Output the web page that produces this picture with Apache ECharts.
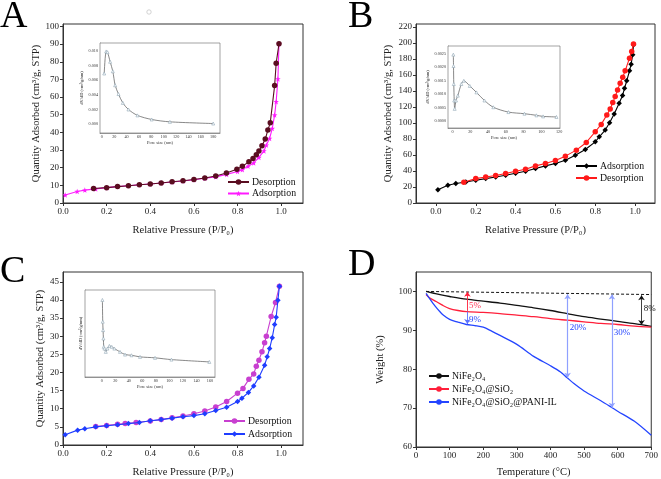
<!DOCTYPE html>
<html><head><meta charset="utf-8">
<script src="https://cdn.jsdelivr.net/npm/echarts@6/dist/echarts.min.js"></script>
<style>html,body{margin:0;padding:0;background:#fff}#c{width:661px;height:479px}</style>
</head><body><div id="c"></div>
<script>
// ---------- DATA ----------
// Panel A (N2 isotherm)
const aAdsP = [0.01,0.065,0.10,0.15,0.20,0.25,0.30,0.35,0.40,0.45,0.50,0.55,0.60,0.65,0.70,0.75,0.80,0.822,0.848,0.874,0.898,0.921,0.932,0.947,0.959,0.970,0.977,0.985,0.990];
const aAdsQ = [4.5,6.5,7.3,8.0,8.7,9.3,9.8,10.3,10.8,11.3,11.9,12.5,13.2,14.0,14.8,16.2,17.8,18.9,20.8,22.7,25.8,29.5,32.8,36.6,42.2,49.8,57.4,70.3,90.2];
const aDesP = [0.990,0.977,0.970,0.950,0.939,0.927,0.912,0.898,0.886,0.871,0.852,0.822,0.797,0.749,0.700,0.650,0.600,0.550,0.500,0.450,0.400,0.350,0.300,0.250,0.200,0.140];
const aDesQ = [90.2,79.2,66.5,45.5,41.3,36.2,32.4,29.5,27.3,25.2,23.3,20.8,19.1,17.0,15.3,14.2,13.3,12.6,12.0,11.3,10.8,10.3,9.8,9.3,8.7,8.2];
const aPoreD = [3.8,7.0,9.1,13.4,17.7,21.5,26.9,33.9,43,57.5,80.6,110,180];
const aPoreV = [0.0069,0.0099,0.0098,0.0085,0.0072,0.0053,0.0041,0.0029,0.0020,0.0012,0.00064,0.00032,0.00009];
// Panel B
const bAdsP = [0.01,0.06,0.10,0.15,0.20,0.25,0.30,0.35,0.40,0.45,0.50,0.55,0.60,0.65,0.70,0.75,0.80,0.82,0.85,0.872,0.895,0.92,0.937,0.947,0.958,0.972,0.98,0.988,0.992];
const bAdsQ = [16.7,22.2,24.3,26.3,28.4,30.5,32.6,34.7,37.2,39.7,43.1,46.4,49.4,53.5,59.8,66.9,76.5,82.8,91.2,100.4,111.3,124.6,134.3,143.5,152.7,165.2,173.6,185.3,197.8];
const bDesP = [0.992,0.983,0.972,0.95,0.938,0.925,0.912,0.90,0.888,0.875,0.858,0.83,0.80,0.755,0.705,0.65,0.60,0.55,0.50,0.45,0.40,0.35,0.30,0.25,0.20,0.14];
const bDesQ = [198.7,189.5,181.1,165.2,157.3,149.7,141.4,133.0,125.5,117.5,110.0,98.3,89.1,75.7,66.1,58.6,53.1,49.4,46.4,42.2,39.7,36.8,34.3,32.6,30.5,25.9];
const bPoreD = [1,1.2,1.5,2,2.5,4,6,10,12.8,19.5,27,36,46,63,81,94.5,102,117];
const bPoreV = [0.00246,0.00204,0.00137,0.00076,0.00045,0.00076,0.00094,0.00137,0.00149,0.0013,0.00106,0.00076,0.00051,0.00033,0.00027,0.00021,0.00017,0.00015];
// Panel C
const cAdsP = [0.01,0.067,0.10,0.15,0.20,0.25,0.30,0.35,0.40,0.45,0.50,0.55,0.60,0.65,0.70,0.75,0.80,0.82,0.85,0.874,0.898,0.924,0.936,0.947,0.959,0.970,0.977,0.985,0.992];
const cAdsQ = [2.8,4.1,4.5,5.0,5.3,5.6,5.9,6.2,6.7,7.0,7.4,7.8,8.1,8.6,9.5,10.4,12.0,12.9,14.5,16.3,18.7,22.0,24.3,26.6,29.6,33.2,35.2,39.9,43.8];
const cDesP = [0.992,0.974,0.954,0.932,0.924,0.912,0.898,0.886,0.874,0.852,0.825,0.80,0.75,0.70,0.65,0.60,0.55,0.50,0.45,0.40,0.335,0.285,0.25,0.20,0.15];
const cDesQ = [43.8,39.3,35.4,30.0,28.2,25.7,23.4,21.7,19.6,18.1,15.6,14.3,12.0,10.5,9.4,8.6,8.0,7.5,7.0,6.6,6.2,5.9,5.7,5.4,5.1];
const cPoreD = [1,1.5,2,2.5,3,4,6,8.4,11.3,14.8,18.7,27,34.5,44,56.6,78.8,103,159];
const cPoreV = [0.00488,0.00328,0.00266,0.00204,0.00143,0.0013,0.00106,0.0013,0.0015,0.00143,0.0013,0.00106,0.00086,0.00081,0.00069,0.00062,0.00049,0.00032];
// Panel D (TGA)
const dBlackT = [30,50,75,100,150,200,250,300,350,400,450,500,550,600,650,700];
const dBlackW = [100.0,99.6,99.1,98.7,98.0,97.5,97.0,96.4,95.8,95.1,94.3,93.5,92.9,92.3,91.7,91.0];
const dRedT = [30,40,60,80,100,125,150,200,250,300,350,400,450,500,550,600,650,700];
const dRedW = [99.2,98.4,97.4,96.4,95.6,95.1,94.8,94.6,94.3,93.9,93.5,93.0,92.6,92.2,91.8,91.5,91.1,90.8];
const dBlueT = [30,40,50,60,70,80,100,125,150,175,200,225,250,300,350,400,430,450,470,500,550,580,600,650,700];
const dBlueW = [99.5,98.2,97.0,95.9,94.9,94.0,92.8,92.1,91.5,91.2,90.8,89.8,88.7,86.4,83.3,80.9,79.3,77.8,76.3,74.4,71.9,70.3,69.2,66.6,63.0];
const dLossLabels = ['5%','9%','20%','30%','8%'];
// tick labels
const isoXTicks = [0,0.2,0.4,0.6,0.8,1.0];
const aYTicks = [0,10,20,30,40,50,60,70,80,90,100];
const bYTicks = [0,20,40,60,80,100,120,140,160,180,200,220];
const cYTicks = [0,5,10,15,20,25,30,35,40,45];
const dXTicks = [0,100,200,300,400,500,600,700];
const dYTicks = [60,70,80,90,100];
const aInXTicks = [0,20,40,60,80,100,120,140,160,180];
const aInYTicks = [0,0.002,0.004,0.006,0.008,0.010];
const bInXTicks = [0,20,40,60,80,100,120];
const bInYTicks = [0,0.0005,0.0010,0.0015,0.0020,0.0025];
const cInXTicks = [0,20,40,60,80,100,120,140,160];
const cInYTicks = [0,0.001,0.002,0.003,0.004,0.005];

// ---------- CHART ----------
const FONT = 'Liberation Serif';
const zip = (xs, ys) => xs.map((x, i) => [x, ys[i]]);
const chart = echarts.init(document.getElementById('c'), null, {renderer: 'canvas'});

function mainAxis(idx, min, max, ticks, fmt, name, gap) {
  return {
    type: 'value', gridIndex: idx, min: min, max: max,
    name: name, nameLocation: 'middle', nameGap: gap,
    nameTextStyle: {fontFamily: FONT, fontSize: 10.5, color: '#222'},
    axisLine: {show: true, onZero: false, lineStyle: {color: '#333', width: 1}},
    axisTick: {show: true, inside: false, length: 3, customValues: ticks, lineStyle: {color: '#333'}},
    axisLabel: {customValues: ticks, formatter: fmt, fontFamily: FONT, fontSize: 9, color: '#222', margin: 4},
    splitLine: {show: false}
  };
}
function insetAxis(idx, min, max, ticks, fmt, name, gap, inside) {
  return {
    type: 'value', gridIndex: idx, min: min, max: max,
    name: name, nameLocation: 'middle', nameGap: gap,
    nameTextStyle: {fontFamily: FONT, fontSize: 4.5, color: '#333'},
    axisLine: {show: true, onZero: false, lineStyle: {color: '#666', width: 0.6}},
    axisTick: {show: true, inside: true, length: 1.5, customValues: ticks, lineStyle: {color: '#666', width: 0.5}},
    axisLabel: {customValues: ticks, formatter: fmt, fontFamily: FONT, fontSize: 4.2, color: '#333', margin: 2, inside: !!inside},
    splitLine: {show: false}
  };
}
const f1 = v => v.toFixed(1);
const f0 = v => String(Math.round(v));

function iso(name, xi, yi, xs, ys, color, symbol, z) {
  return {
    type: 'line', name: name, xAxisIndex: xi, yAxisIndex: yi, data: zip(xs, ys),
    symbol: symbol, symbolSize: 5.5, showSymbol: true, z: z || 2,
    lineStyle: {color: color, width: 1.1}, itemStyle: {color: color},
    emphasis: {disabled: true}
  };
}
function pore(xi, yi, xs, ys) {
  return {
    type: 'line', xAxisIndex: xi, yAxisIndex: yi, data: zip(xs, ys), smooth: 0.3,
    symbol: 'triangle', symbolSize: [3, 3], z: 5,
    lineStyle: {color: '#555', width: 0.7},
    itemStyle: {color: '#ffffff', borderColor: '#8fa6b5', borderWidth: 0.6},
    emphasis: {disabled: true}
  };
}
const star = 'path://M0,-10L2.4,-3.3L9.5,-3.1L3.9,1.3L5.9,8.1L0,4.1L-5.9,8.1L-3.9,1.3L-9.5,-3.1L-2.4,-3.3Z';

function lbl(x, y, text, color) {
  return {coord: [x, y], value: text, symbol: 'circle', symbolSize: 1, itemStyle: {color: 'rgba(0,0,0,0)'},
    label: {show: true, position: 'right', distance: 1, formatter: text, color: color, fontFamily: FONT, fontSize: 9}};
}

const legendBase = {
  orient: 'vertical', itemWidth: 21, itemHeight: 7, selectedMode: false, padding: 0,
  textStyle: {fontFamily: FONT, fontSize: 9.8, color: '#111', padding: [0, 0, 0, -2]},
  formatter: n => n.split('|')[1]
};
const gridStyle = {show: true, borderColor: '#333', borderWidth: 1, containLabel: false};
const inGridStyle = {show: true, borderColor: '#666', borderWidth: 0.6, backgroundColor: '#fff', z: 4};

const option = {
  animation: false,
  grid: [
    Object.assign({left: 63, top: 24, width: 240, height: 179}, gridStyle),
    Object.assign({left: 416, top: 24, width: 239, height: 179}, gridStyle),
    Object.assign({left: 63, top: 272, width: 240, height: 176}, gridStyle),
    Object.assign({left: 416, top: 272, width: 239, height: 177}, gridStyle),
    Object.assign({left: 100, top: 43, width: 120, height: 90}, inGridStyle),
    Object.assign({left: 448, top: 46, width: 112, height: 82}, inGridStyle),
    Object.assign({left: 85, top: 290, width: 130, height: 87}, inGridStyle)
  ],
  xAxis: [
    mainAxis(0, 0, 1.1, isoXTicks, f1, 'Relative Pressure (P/P\u2080)', 22),
    mainAxis(1, -0.1, 1.1, isoXTicks, f1, 'Relative Pressure (P/P\u2080)', 22),
    mainAxis(2, 0, 1.1, isoXTicks, f1, 'Relative Pressure (P/P\u2080)', 22),
    mainAxis(3, 0, 700, dXTicks, f0, 'Temperature (\u00b0C)', 20),
    insetAxis(4, -3, 191, aInXTicks, f0, 'Pore size (nm)', 7),
    insetAxis(5, -5, 121, bInXTicks, f0, 'Pore size (nm)', 7),
    insetAxis(6, -24.7, 167.4, cInXTicks, f0, 'Pore size (nm)', 7)
  ],
  yAxis: [
    mainAxis(0, 0, 101.4, aYTicks, f0, 'Quantity Adsorbed (cm\u00b3/g, STP)', 21),
    mainAxis(1, 0, 223.8, bYTicks, f0, 'Quantity Adsorbed (cm\u00b3/g, STP)', 22),
    mainAxis(2, 0, 47.7, cYTicks, f0, 'Quantity Adsorbed (cm\u00b3/g, STP)', 17),
    mainAxis(3, 60, 105, dYTicks, f0, 'Weight (%)', 30),
    insetAxis(4, -0.0012, 0.01105, aInYTicks, v => v.toFixed(3), 'dV/dD (cm\u00b3/g/nm)', 15),
    insetAxis(5, -0.00026, 0.00278, bInYTicks, v => v.toFixed(4), 'dV/dD (cm\u00b3/g/nm)', 17),
    insetAxis(6, -0.00079, 0.00561, cInYTicks, v => v.toFixed(3), 'dV/dD (cm\u00b3/g/nm)', -14, true)
  ],
  legend: [
    Object.assign({}, legendBase, {left: 227, top: 177, itemGap: 1.5, data: ['A|Desorption', 'A|Adsorption']}),
    Object.assign({}, legendBase, {left: 575, top: 161, itemGap: 2, data: ['B|Adsorption', 'B|Desorption']}),
    Object.assign({}, legendBase, {left: 223, top: 416, itemGap: 3, data: ['C|Desorption', 'C|Adsorption']}),
    Object.assign({}, legendBase, {left: 428, top: 371, itemGap: 3, itemWidth: 20, data: ['D|NiFe\u2082O\u2084', 'D|NiFe\u2082O\u2084@SiO\u2082', 'D|NiFe\u2082O\u2084@SiO\u2082@PANI-IL']})
  ],
  series: [
    iso('A|Desorption', 0, 0, aDesP, aDesQ, '#5a0d20', 'circle', 3),
    iso('A|Adsorption', 0, 0, aAdsP, aAdsQ, '#ff1aff', star, 2),
    iso('B|Adsorption', 1, 1, bAdsP, bAdsQ, '#000000', 'diamond', 2),
    iso('B|Desorption', 1, 1, bDesP, bDesQ, '#ff1a1a', 'circle', 3),
    iso('C|Desorption', 2, 2, cDesP, cDesQ, '#c83fd0', 'circle', 2),
    iso('C|Adsorption', 2, 2, cAdsP, cAdsQ, '#1f3dff', 'diamond', 3),
    {
      type: 'line', name: 'D|NiFe\u2082O\u2084', xAxisIndex: 3, yAxisIndex: 3, data: zip(dBlackT, dBlackW),
      smooth: 0.3, symbol: 'none', lineStyle: {color: '#111', width: 1.3}, itemStyle: {color: '#111'},
      markLine: {silent: true, symbol: ['none', 'none'], symbolSize: 5, label: {show: false},
        data: [
          [{coord: [30, 100], lineStyle: {color: '#111', type: [3, 2], width: 1}}, {coord: [700, 99.2]}],
          [{coord: [671, 99.0], symbol: 'arrow', lineStyle: {color: '#111', width: 0.8, type: 'solid'}}, {coord: [671, 91.4], symbol: 'arrow'}]
        ]},
      markPoint: {silent: true, data: [lbl(673, 95.7, dLossLabels[4], '#111')]}
    },
    {
      type: 'line', name: 'D|NiFe\u2082O\u2084@SiO\u2082', xAxisIndex: 3, yAxisIndex: 3, data: zip(dRedT, dRedW),
      smooth: 0.3, symbol: 'none', lineStyle: {color: '#ff1f3a', width: 1.3}, itemStyle: {color: '#ff1f3a'},
      markLine: {silent: true, symbol: ['none', 'arrow'], symbolSize: 5, label: {show: false},
        data: [[{coord: [153, 95.0], lineStyle: {color: '#ff1f3a', width: 0.9, type: 'solid'}}, {coord: [153, 99.9]}]]},
      markPoint: {silent: true, data: [lbl(153, 96.3, dLossLabels[0], '#ff3355')]}
    },
    {
      type: 'line', name: 'D|NiFe\u2082O\u2084@SiO\u2082@PANI-IL', xAxisIndex: 3, yAxisIndex: 3, data: zip(dBlueT, dBlueW),
      smooth: 0.3, symbol: 'none', lineStyle: {color: '#2445ff', width: 1.3}, itemStyle: {color: '#2445ff'},
      markLine: {silent: true, symbol: ['arrow', 'arrow'], symbolSize: 5, label: {show: false},
        data: [
          [{coord: [153, 94.8], symbol: 'none', lineStyle: {color: '#5a70ff', width: 0.9, type: 'solid'}}, {coord: [153, 91.6]}],
          [{coord: [451, 99.3], lineStyle: {color: '#8fa0ff', width: 1.2, type: 'solid'}}, {coord: [451, 77.8]}],
          [{coord: [583, 99.2], lineStyle: {color: '#8fa0ff', width: 1.2, type: 'solid'}}, {coord: [583, 70.1]}]
        ]},
      markPoint: {silent: true, data: [
        lbl(153, 92.8, dLossLabels[1], '#2445ff'),
        lbl(453, 90.8, dLossLabels[2], '#2445ff'),
        lbl(584, 89.4, dLossLabels[3], '#2445ff')
      ]}
    },
    pore(4, 4, aPoreD, aPoreV),
    pore(5, 5, bPoreD, bPoreV),
    pore(6, 6, cPoreD, cPoreV)
  ],
  graphic: [
    {type: 'text', left: 0, top: -2, style: {text: 'A', font: '38px "Liberation Serif"', fill: '#000'}},
    {type: 'text', left: 348, top: -2, style: {text: 'B', font: '38px "Liberation Serif"', fill: '#000'}},
    {type: 'text', left: 0, top: 253, style: {text: 'C', font: '38px "Liberation Serif"', fill: '#000'}},
    {type: 'text', left: 348, top: 246, style: {text: 'D', font: '38px "Liberation Serif"', fill: '#000'}},
    {type: 'circle', shape: {cx: 149, cy: 12, r: 2.2}, style: {fill: 'none', stroke: '#c8c8c8', lineWidth: 0.8}}
  ]
};
chart.setOption(option);
</script>
</body></html>
